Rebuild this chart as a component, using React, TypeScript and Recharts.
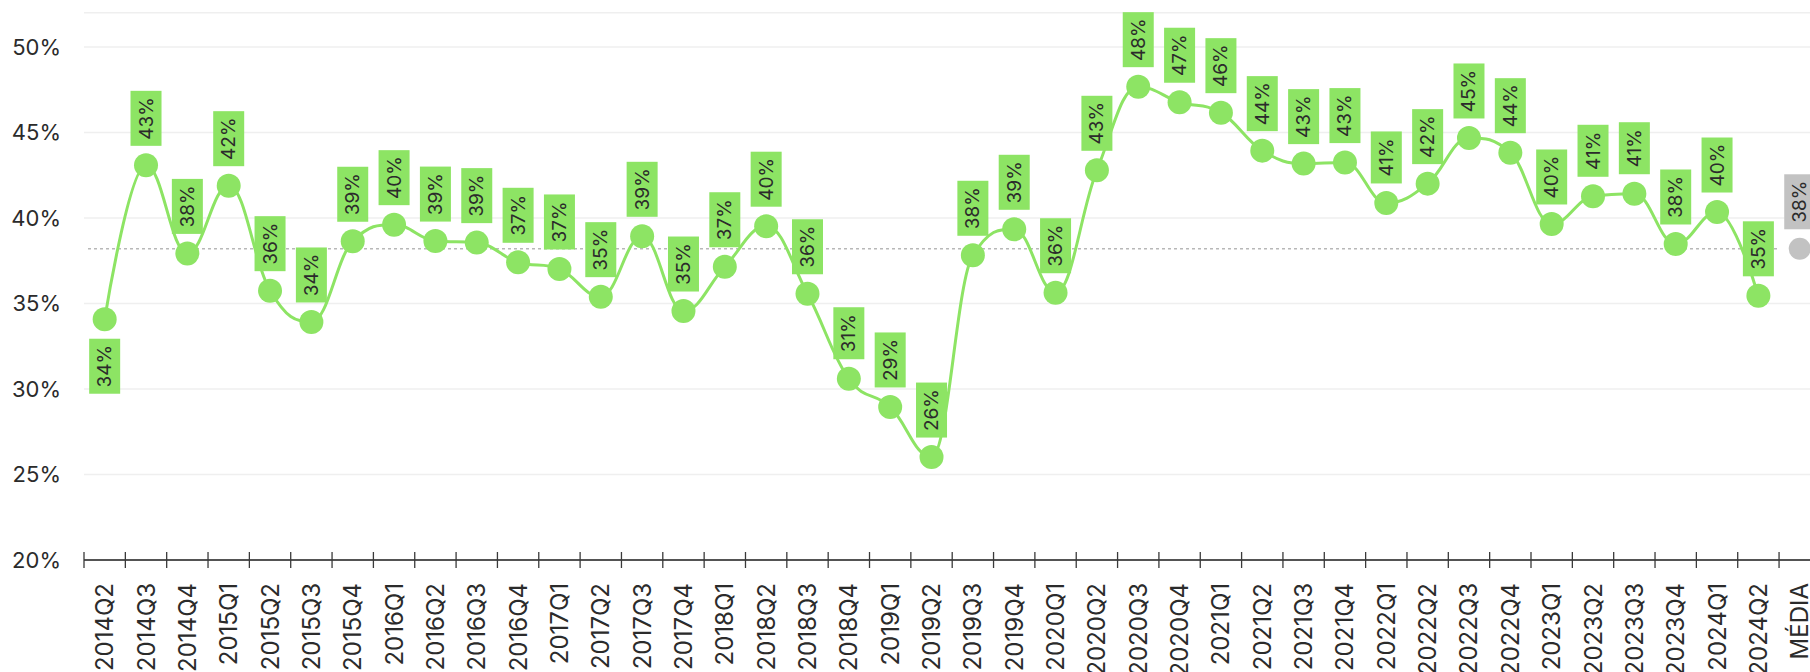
import React from "react"
import {
  CartesianGrid,
  Line,
  LineChart,
  ReferenceLine,
  XAxis,
  YAxis,
} from "recharts"

const quarters = [
  "2014Q2", "2014Q3", "2014Q4",
  "2015Q1", "2015Q2", "2015Q3", "2015Q4",
  "2016Q1", "2016Q2", "2016Q3", "2016Q4",
  "2017Q1", "2017Q2", "2017Q3", "2017Q4",
  "2018Q1", "2018Q2", "2018Q3", "2018Q4",
  "2019Q1", "2019Q2", "2019Q3", "2019Q4",
  "2020Q1", "2020Q2", "2020Q3", "2020Q4",
  "2021Q1", "2021Q2", "2021Q3", "2021Q4",
  "2022Q1", "2022Q2", "2022Q3", "2022Q4",
  "2023Q1", "2023Q2", "2023Q3", "2023Q4",
  "2024Q1", "2024Q2",
]

const shareValues = [
  34.08, 43.08, 37.93,
  41.89, 35.75, 33.92, 38.64,
  39.61, 38.65, 38.56, 37.41,
  37.02, 35.4, 38.93, 34.56,
  37.15, 39.52, 35.57, 30.6,
  28.95, 26.02, 37.82, 39.34,
  35.63, 42.79, 47.68, 46.77,
  46.16, 43.94, 43.18, 43.24,
  40.88, 42.01, 44.68, 43.82,
  39.65, 41.27, 41.42, 38.48,
  40.35, 35.45,
]

const averageLabel = "MÉDIA"
const averageValue = 38.2

const yTicks = [20, 25, 30, 35, 40, 45, 50]

const FONT = "Inter, 'Noto Sans', sans-serif"
const GREEN = "#8de464"
const GREY = "#c2c2c2"
const TEXT = "#2b2b2b"

const CHART_W = 1830
const CHART_H = 672
const Y_AXIS_W = 84
const MARGIN_RIGHT = 9.6
const MARGIN_TOP = 12.8
const X_AXIS_H = 112

const categories = [...quarters, averageLabel]
const BAND = (CHART_W - Y_AXIS_W - MARGIN_RIGHT) / categories.length

const chartData = categories.map((label, i) => ({
  label,
  share: i < shareValues.length ? shareValues[i] : null,
  media: label === averageLabel ? averageValue : null,
}))

// spline close to the one the source chart uses (smoothing 1.5, no false extremes)
function splineCurve(context: any) {
  let xs: number[] = []
  let ys: number[] = []
  return {
    areaStart() {},
    areaEnd() {},
    lineStart() {
      xs = []
      ys = []
    },
    point(x: number, y: number) {
      xs.push(+x)
      ys.push(+y)
    },
    lineEnd() {
      const n = xs.length
      if (!n) return
      context.moveTo(xs[0], ys[0])
      let prevRX = xs[0]
      let prevRY = ys[0]
      for (let i = 1; i < n; i++) {
        const px = xs[i]
        const py = ys[i]
        let lx = px, ly = py, rx = px, ry = py
        if (i < n - 1) {
          const s = 1.5
          const d = s + 1
          const ax = xs[i - 1], ay = ys[i - 1]
          const bx = xs[i + 1], by = ys[i + 1]
          lx = (s * px + ax) / d
          ly = (s * py + ay) / d
          rx = (s * px + bx) / d
          ry = (s * py + by) / d
          let corr = 0
          if (rx !== lx) corr = ((ry - ly) * (rx - px)) / (rx - lx) + py - ry
          ly += corr
          ry += corr
          if (ly > ay && ly > py) {
            ly = Math.max(ay, py)
            ry = 2 * py - ly
          } else if (ly < ay && ly < py) {
            ly = Math.min(ay, py)
            ry = 2 * py - ly
          }
          if (ry > by && ry > py) {
            ry = Math.max(by, py)
            ly = 2 * py - ry
          } else if (ry < by && ry < py) {
            ry = Math.min(by, py)
            ly = 2 * py - ry
          }
        }
        context.bezierCurveTo(prevRX, prevRY, lx, ly, px, py)
        prevRX = rx
        prevRY = ry
      }
    },
  }
}

function textLength(text: string) {
  let w = 0
  for (const ch of text) {
    if (ch === "%") w += 15
    else if (ch === "1") w += 8
    else w += 11
  }
  return w
}

function makeValueLabel(fill: string) {
  return function ValueLabel(props: any) {
    const { x, y, value, index } = props
    if (value == null || x == null || y == null) return null
    const text = `${Math.round(value)}%`
    const boxW = 31
    const boxH = textLength(text) + 18
    const below = fill === GREEN && index === 0
    const top = below ? y + 19.5 : y - 19.5 - boxH
    const cy = top + boxH / 2
    return (
      <g>
        <rect x={x - boxW / 2} y={top} width={boxW} height={boxH} fill={fill} />
        <text
          transform={`translate(${x},${cy}) rotate(-90)`}
          textAnchor="middle"
          dominantBaseline="central"
          fontFamily={FONT}
          fontSize={19}
          fill={TEXT}
        >
          {text}
        </text>
      </g>
    )
  }
}

function CategoryTick(props: any) {
  const { x, y, payload } = props
  const edge = x - BAND / 2
  return (
    <g>
      <line x1={edge} x2={edge} y1={y - 8} y2={y + 8} stroke="#3a3a3a" strokeWidth={1.3} />
      <text
        transform={`translate(${x},${y + 23}) rotate(-90)`}
        textAnchor="end"
        dominantBaseline="central"
        fontFamily={FONT}
        fontSize={24}
        fill={TEXT}
      >
        {payload.value}
      </text>
    </g>
  )
}

function AverageLine(props: any) {
  const { x1, y1 } = props
  if (x1 == null || y1 == null) return null
  return (
    <line
      x1={x1 + 4}
      x2={x1 + quarters.length * BAND}
      y1={y1}
      y2={y1}
      stroke="#b8b8b8"
      strokeWidth={1.5}
      strokeDasharray="3 3"
    />
  )
}

export default function App() {
  return (
    <div
      style={{
        position: "absolute",
        left: 0,
        top: 0,
        width: 1810,
        height: 672,
        overflow: "hidden",
        background: "#fff",
      }}
    >
      <LineChart
        width={CHART_W}
        height={CHART_H}
        data={chartData}
        margin={{ top: MARGIN_TOP, right: MARGIN_RIGHT, bottom: 0, left: 0 }}
      >
        <CartesianGrid stroke="#efefef" strokeWidth={1.5} vertical={false} />
        <XAxis
          dataKey="label"
          interval={0}
          height={X_AXIS_H}
          padding={{ left: BAND / 2, right: BAND / 2 }}
          tickSize={0}
          tickMargin={0}
          tickLine={false}
          axisLine={{ stroke: "#1f1f1f", strokeWidth: 1.6 }}
          tick={<CategoryTick />}
        />
        <YAxis
          width={Y_AXIS_W}
          domain={[20, 52]}
          ticks={yTicks}
          allowDataOverflow
          tickFormatter={(v: number) => `${v}%`}
          axisLine={false}
          tickLine={false}
          tickSize={0}
          tickMargin={23}
          tick={{ fill: TEXT, fontSize: 22, fontFamily: FONT }}
        />
        <ReferenceLine y={averageValue} shape={<AverageLine />} />
        <Line
          dataKey="share"
          type={splineCurve as any}
          stroke={GREEN}
          strokeWidth={3}
          dot={{ r: 12, fill: GREEN, stroke: "none" }}
          activeDot={false}
          label={makeValueLabel(GREEN)}
          isAnimationActive={false}
        />
        <Line
          dataKey="media"
          stroke="none"
          dot={{ r: 11, fill: GREY, stroke: "none" }}
          activeDot={false}
          label={makeValueLabel(GREY)}
          isAnimationActive={false}
        />
      </LineChart>
    </div>
  )
}
